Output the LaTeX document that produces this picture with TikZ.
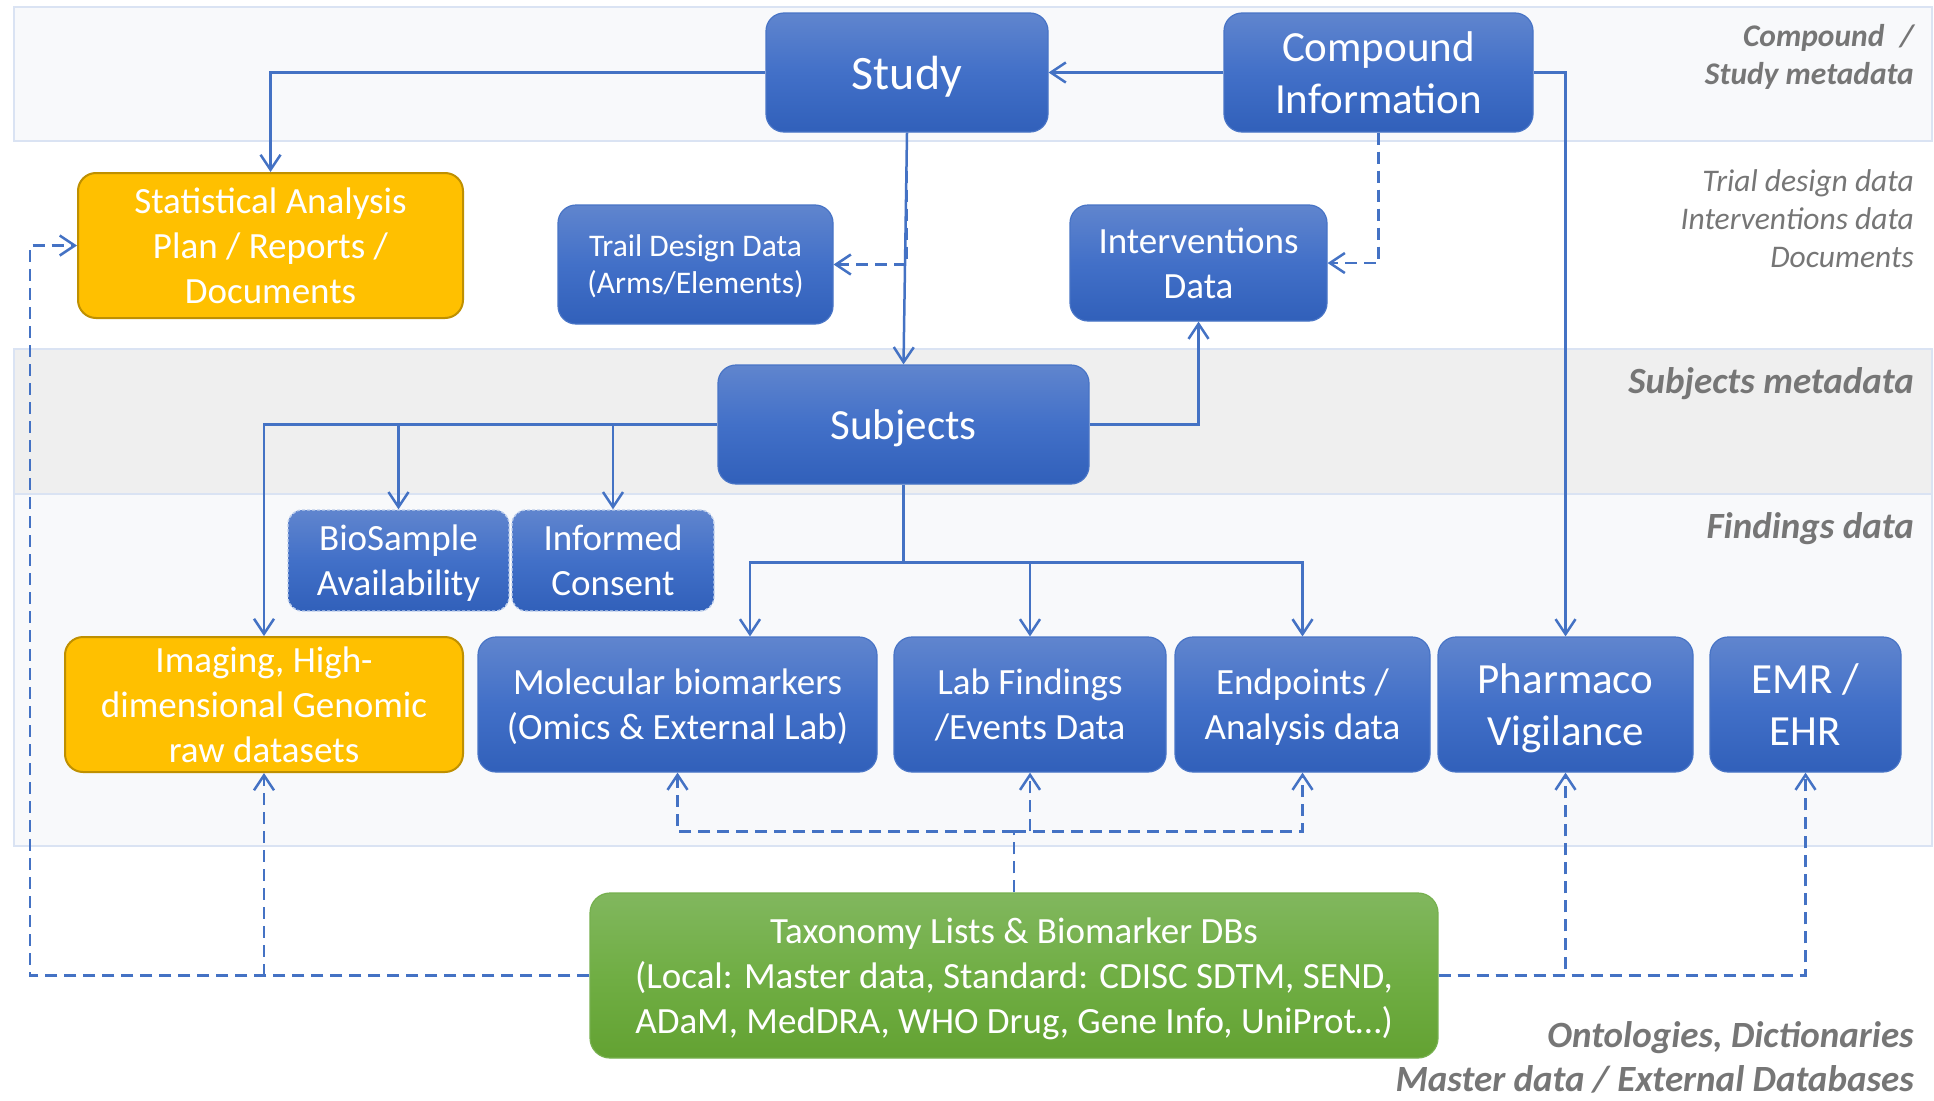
\documentclass[tikz,border=0pt]{standalone}
\usepackage{fontspec}
\setmainfont{Carlito}
\usetikzlibrary{arrows.meta}

\definecolor{lineblue}{RGB}{68,114,196}
\definecolor{boxtop}{RGB}{96,133,206}
\definecolor{boxmid}{RGB}{66,112,200}
\definecolor{boxbot}{RGB}{49,96,186}
\definecolor{boxedge}{RGB}{72,116,198}
\definecolor{amber}{RGB}{255,192,0}
\definecolor{amberedge}{RGB}{191,144,0}
\definecolor{greentop}{RGB}{129,183,94}
\definecolor{greenmid}{RGB}{112,174,68}
\definecolor{greenbot}{RGB}{99,162,50}
\definecolor{greenedge}{RGB}{118,176,78}
\definecolor{bandfill}{RGB}{248,249,251}
\definecolor{bandedge}{RGB}{218,227,243}
\definecolor{grayband}{RGB}{239,239,239}
\definecolor{labelgray}{RGB}{118,118,118}
\definecolor{softedge}{RGB}{190,207,236}

\tikzset{
  box/.style={rectangle, rounded corners=18pt, draw=boxedge, line width=1.2pt,
    top color=boxtop, bottom color=boxbot, middle color=boxmid,
    text=white, align=center, inner sep=0pt, text depth=0pt},
  softbox/.style={box, rounded corners=14pt, draw=softedge, line width=1.4pt,
    dash pattern=on 3pt off 2pt},
  amberbox/.style={rectangle, rounded corners=18pt, draw=amberedge, line width=2pt,
    fill=amber, text=white, align=center, inner sep=0pt, text depth=0pt},
  greenbox/.style={rectangle, rounded corners=20pt, draw=greenedge, line width=1.2pt,
    top color=greentop, bottom color=greenbot, middle color=greenmid,
    text=white, align=center, inner sep=0pt, text depth=0pt},
  conn/.style={draw=lineblue, line width=2.5pt, -{Straight Barb[length=15pt,width=20pt]}},
  dconn/.style={conn, dash pattern=on 12pt off 7pt},
  dlink/.style={draw=lineblue, line width=2.5pt, dash pattern=on 12pt off 7pt},
  tag/.style={text=labelgray, align=right, anchor=east, inner sep=0pt},
  fbig/.style={font=\fontsize{48}{58}\selectfont},
  fhead/.style={font=\fontsize{43}{52}\selectfont},
  fmain/.style={font=\fontsize{37}{45}\selectfont},
  fsmall/.style={font=\fontsize{31.5}{37}\selectfont},
}

\begin{document}
\begin{tikzpicture}[x=1pt,y=-1pt]
\useasboundingbox (0,0) rectangle (1934,1100);
\fill[white] (0,0) rectangle (1934,1100);

% horizontal bands
\draw[draw=bandedge, fill=bandfill, line width=1.5pt] (14,7) rectangle (1932,141);
\draw[draw=bandedge, fill=grayband, line width=1.5pt] (14,349) rectangle (1932,494);
\draw[draw=bandedge, fill=bandfill, line width=1.5pt] (14,494) rectangle (1932,846);

% band labels
\node[tag, font=\fontsize{31.5}{38}\selectfont\bfseries\itshape] (lblcompound) at (1914,57) {Compound\enspace/\\Study metadata};
\node[tag, font=\fontsize{31.5}{38}\selectfont\itshape] (lbltrial) at (1914,219) {Trial design data\\Interventions data\\Documents};
\node[tag, font=\fontsize{37}{45}\selectfont\bfseries\itshape] (lblsubjects) at (1914,384) {Subjects metadata};
\node[tag, font=\fontsize{37}{45}\selectfont\bfseries\itshape] (lblfindings) at (1914,529) {Findings data};
\node[tag, font=\fontsize{37}{44}\selectfont\bfseries\itshape] (lblonto) at (1914,1057) {Ontologies, Dictionaries\\Master data / External Databases};

% top row
\node[box, fbig, minimum width=282pt, minimum height=119pt] (study) at (907,72.5) {Study};
\node[box, fhead, minimum width=309pt, minimum height=119pt] (compound) at (1378.5,72.5) {Compound\\Information};

% second row
\node[amberbox, fmain, minimum width=385pt, minimum height=145pt] (sap) at (270.5,245.5) {Statistical Analysis\\Plan / Reports /\\Documents};
\node[box, fsmall, minimum width=275pt, minimum height=119pt] (trail) at (695.5,264.5) {Trail Design Data\\(Arms/Elements)};
\node[box, fmain, minimum width=257pt, minimum height=116pt] (interv) at (1198.5,263) {Interventions\\Data};

% subjects
\node[box, fhead, minimum width=371pt, minimum height=119pt] (subjects) at (903.5,424.5) {Subjects};
\node[softbox, fmain, minimum width=221pt, minimum height=101pt] (bio) at (398.5,560.5) {BioSample\\Availability};
\node[softbox, fmain, minimum width=202pt, minimum height=101pt] (informed) at (613,560.5) {Informed\\Consent};

% findings row
\node[amberbox, fmain, minimum width=398pt, minimum height=135pt] (imaging) at (264,704.5) {Imaging, High-\\dimensional Genomic\\raw datasets};
\node[box, fmain, minimum width=399pt, minimum height=135pt] (molecular) at (677.5,704.5) {Molecular biomarkers\\(Omics \& External Lab)};
\node[box, fmain, minimum width=272pt, minimum height=135pt] (lab) at (1030,704.5) {Lab Findings\\/Events Data};
\node[box, fmain, minimum width=255pt, minimum height=135pt] (endpoints) at (1302.5,704.5) {Endpoints /\\Analysis data};
\node[box, fhead, minimum width=255pt, minimum height=135pt] (pv) at (1565.5,704.5) {Pharmaco\\Vigilance};
\node[box, fhead, minimum width=191pt, minimum height=135pt] (emr) at (1805.5,704.5) {EMR /\\EHR};

% dictionaries
\node[greenbox, fmain, minimum width=848pt, minimum height=165pt] (taxonomy) at (1014,975.5) {Taxonomy Lists \& Biomarker DBs\\(Local: Master data, Standard: CDISC SDTM, SEND,\\ADaM, MedDRA, WHO Drug, Gene Info, UniProt…)};

% helper points
\coordinate (lrail) at (30,0);
\path (subjects.south) ++(0,78) coordinate (fork);
\path (taxonomy.north) ++(0,-61) coordinate (tfork);

% solid connectors
\draw[conn] (study.west) -| (sap.north);
\draw[conn] (compound.west) -- (study.east);
\draw[conn] (compound.east) -| (pv.north);
\draw[conn] (study.south) -- (subjects.north);
\draw[conn] (subjects.east) -| (interv.south);
\draw[conn] (subjects.west) -| (imaging.north);
\draw[conn] (subjects.west -| bio.north) -- (bio.north);
\draw[conn] (subjects.west -| informed.north) -- (informed.north);
\draw[conn] (subjects.south) -- (fork) -| ([xshift=72.5pt]molecular.north);
\draw[conn] (fork) -| (lab.north);
\draw[conn] (fork) -| (endpoints.north);

% dashed connectors
\draw[dconn] (study.south) |- (trail.east);
\draw[dconn] (compound.south) |- (interv.east);
\draw[dconn] (taxonomy.west) -- (taxonomy.west -| lrail) |- (sap.west);
\draw[dconn] (taxonomy.west -| imaging.south) -- (imaging.south);
\draw[dlink] (taxonomy.north) -- (tfork);
\draw[dconn] (tfork) -| (molecular.south);
\draw[dconn] (tfork) -| (endpoints.south);
\draw[dconn] (tfork -| lab.south) -- (lab.south);
\draw[dconn] (taxonomy.east) -| (pv.south);
\draw[dconn] (taxonomy.east) -| (emr.south);
\end{tikzpicture}
\end{document}
